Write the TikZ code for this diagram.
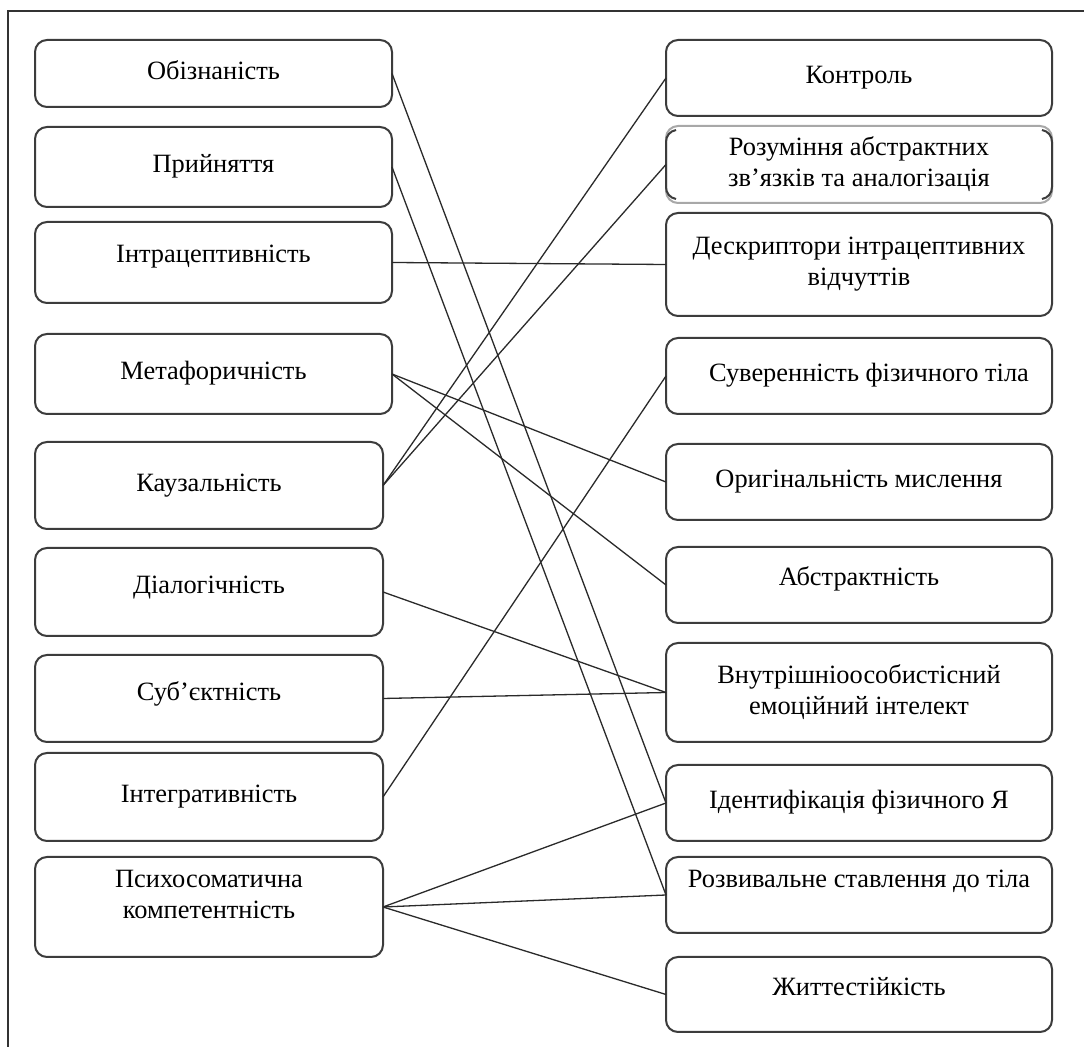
\documentclass[tikz,border=0pt]{standalone}
\usepackage{fontspec}
\setmainfont{Liberation Serif}
\definecolor{boxc}{HTML}{3C3C3C}
\definecolor{linec}{HTML}{2A2A2A}
\definecolor{framec}{HTML}{333333}
\definecolor{lightc}{HTML}{A8A8A8}
\begin{document}
\begin{tikzpicture}[x=0.5pt,y=-0.5pt,
  box/.style={draw=boxc, line width=1pt, rounded corners=6pt, inner sep=0pt, outer sep=0pt,
    align=center, font=\fontsize{13.2}{15.5}\selectfont},
  one/.style={text height=9pt, text depth=#1},
  one/.default=3pt,
  lbox/.style={box, minimum width=178.5pt},
  sbox/.style={box, minimum width=174pt},
  rbox/.style={box, minimum width=193pt},
  link/.style={draw=linec, line width=0.65pt}]
\useasboundingbox (0,0) rectangle (1084,1047);
\fill[white] (0,0) rectangle (1084,1047);
\draw[framec, line width=0.6pt] (8,1047) -- (8,11) -- (1084,11);

% left column
\node[lbox, one, minimum height=33.5pt] (L1) at (213.5,73.5) {Обізнаність};
\node[lbox, one, minimum height=40pt] (L2) at (213.5,167) {Прийняття};
\node[lbox, one=8.5pt, minimum height=40.5pt] (L3) at (213.5,262.5) {Інтрацептивність};
\node[lbox, one, minimum height=40pt] (L4) at (213.5,374) {Метафоричність};
\node[sbox, one, minimum height=43.5pt] (L5) at (209,485.5) {Каузальність};
\node[sbox, one=7pt, minimum height=44pt] (L6) at (209,592) {Діалогічність};
\node[sbox, one=6.5pt, minimum height=43.5pt] (L7) at (209,698.5) {Суб’єктність};
\node[sbox, one, minimum height=44pt] (L8) at (209,797) {Інтегративність};
\node[sbox, minimum height=50pt] (L9) at (209,907) {Психосоматична\\компетентність\\[-3pt]\mbox{}};

% right column
\node[rbox, one, minimum height=38pt] (R1) at (859,78) {Контроль};
\node[rbox, draw=lightc, minimum height=38.5pt] (R2) at (859,164.5) {Розуміння абстрактних\\зв’язків та аналогізація};
\node[rbox, minimum height=51.5pt] (R3) at (859,264.5) {Дескриптори інтрацептивних\\відчуттів};
\node[rbox, one, minimum height=38pt] (R4) at (859,376) {\hspace*{10pt}Суверенність фізичного тіла};
\node[rbox, one, minimum height=38pt] (R5) at (859,482) {Оригінальність мислення};
\node[rbox, one=8pt, minimum height=38pt] (R6) at (859,585) {Абстрактність};
\node[rbox, minimum height=49.5pt] (R7) at (859,692.5) {Внутрішніоособистісний\\емоційний інтелект};
\node[rbox, one, minimum height=38pt] (R8) at (859,803) {Ідентифікація фізичного Я};
\node[rbox, one=16pt, minimum height=38pt] (R9) at (859,895) {Розвивальне ставлення до тіла};
\node[rbox, one=7.5pt, minimum height=37.5pt] (R10) at (859,994.5) {Життестійкість};

% dark bracket-like sides of R2
\draw[boxc, line width=1pt] ([xshift=5pt,yshift=-2pt]R2.north west) to[out=190,in=90] ([yshift=-8pt]R2.north west)
  -- ([yshift=8pt]R2.south west) to[out=-90,in=170] ([xshift=5pt,yshift=2pt]R2.south west);
\draw[boxc, line width=1pt] ([xshift=-5pt,yshift=-2pt]R2.north east) to[out=-10,in=90] ([yshift=-8pt]R2.north east)
  -- ([yshift=8pt]R2.south east) to[out=-90,in=10] ([xshift=-5pt,yshift=2pt]R2.south east);

% connectors
\draw[link] (L1.east) -- (R8.west);
\draw[link] (L2.east) -- (R9.west);
\draw[link] (L3.east) -- (R3.west);
\draw[link] (L4.east) -- (R5.west);
\draw[link] (L4.east) -- (R6.west);
\draw[link] (L5.east) -- (R1.west);
\draw[link] (L5.east) -- (R2.west);
\draw[link] (L6.east) -- (R7.west);
\draw[link] (L7.east) -- (R7.west);
\draw[link] (L8.east) -- (R4.west);
\draw[link] (L9.east) -- (R8.west);
\draw[link] (L9.east) -- (R9.west);
\draw[link] (L9.east) -- (R10.west);
\end{tikzpicture}
\end{document}
